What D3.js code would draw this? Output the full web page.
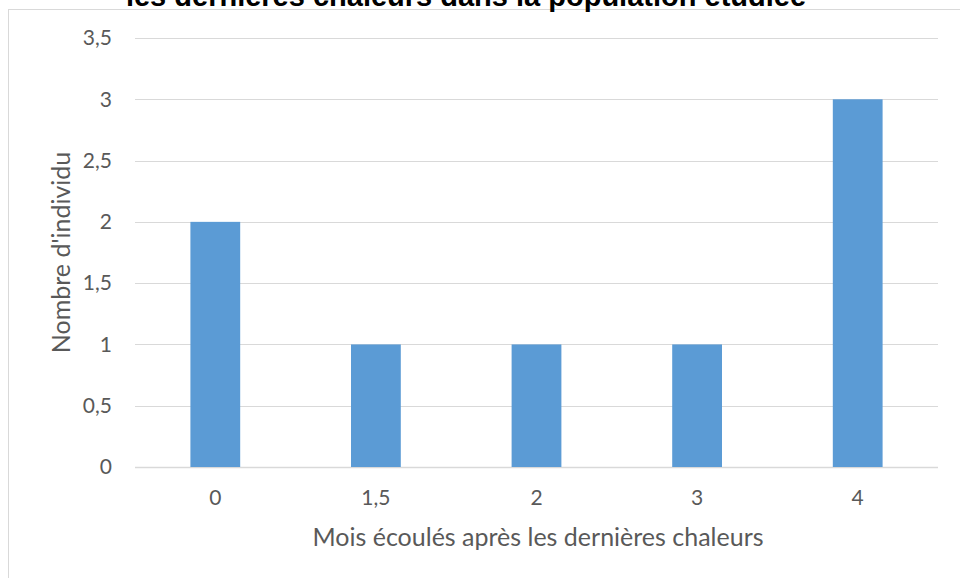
<!DOCTYPE html>
<html>
<head>
<meta charset="utf-8">
<script src="https://cdn.jsdelivr.net/npm/d3@7"></script>
<style>
  body { margin: 0; background: #fff; }
  svg { display: block; }
</style>
</head>
<body>
<svg id="chart" width="960" height="578"></svg>
<script>
var svg = d3.select("#chart");
var width = +svg.attr("width"),
    height = +svg.attr("height");

// data
var categories = ["0", "1,5", "2", "3", "4"];
var counts = [2, 1, 1, 1, 3];
var yTicks = [0, 0.5, 1, 1.5, 2, 2.5, 3, 3.5];

var margin = {left: 135, right: 22, top: 38, bottom: 111};
var labelFont = "Lato, 'Open Sans', sans-serif";

var x = d3.scaleBand()
  .domain(categories)
  .range([margin.left, width - margin.right])
  .paddingInner(0.69)
  .paddingOuter(0.345);

var y = d3.scaleLinear()
  .domain([0, 3.5])
  .range([height - margin.bottom, margin.top]);

// chart frame (cut at right and bottom like the screenshot)
svg.append("rect")
  .attr("x", 8.5)
  .attr("y", 9.5)
  .attr("width", 1000)
  .attr("height", 1000)
  .attr("fill", "#fff")
  .attr("stroke", "#d9d9d9")
  .attr("stroke-width", 1);

// title, mostly cut off at the top (as in the source screenshot)
svg.append("text")
  .attr("x", 466)
  .attr("y", 6)
  .attr("text-anchor", "middle")
  .style("font-family", "'Liberation Sans', Arial, sans-serif")
  .style("font-weight", "bold")
  .style("font-size", "29px")
  .attr("fill", "#000")
  .text("les dernières chaleurs dans la population étudiée");

// gridlines
svg.append("g")
  .selectAll("line")
  .data(yTicks)
  .enter()
  .append("line")
    .attr("x1", margin.left)
    .attr("x2", width - margin.right)
    .attr("y1", d => Math.round(y(d)) + 0.5)
    .attr("y2", d => Math.round(y(d)) + 0.5)
    .attr("stroke", "#d9d9d9")
    .attr("stroke-width", d => d === 0 ? 1.5 : 1);

// y tick labels
var yAxis = d3.axisLeft(y)
  .tickValues(yTicks)
  .tickSize(0)
  .tickPadding(0)
  .tickFormat(d => String(d).replace(".", ","));

var gy = svg.append("g")
  .attr("transform", "translate(112,0)")
  .call(yAxis);
gy.select(".domain").remove();
gy.selectAll("text")
  .style("font-family", labelFont)
  .style("font-size", "21px")
  .attr("fill", "#595959");

// bars
svg.append("g")
  .selectAll("rect")
  .data(counts)
  .enter()
  .append("rect")
    .attr("x", (d, i) => x(categories[i]))
    .attr("y", d => y(d))
    .attr("width", x.bandwidth())
    .attr("height", d => y(0) - y(d))
    .attr("fill", "#5b9bd5");

// x tick labels
var xAxis = d3.axisBottom(x).tickSize(0).tickPadding(0);
var gx = svg.append("g")
  .attr("transform", "translate(0," + (y(0) + 23) + ")")
  .call(xAxis);
gx.select(".domain").remove();
gx.selectAll("text")
  .style("font-family", labelFont)
  .style("font-size", "21px")
  .attr("fill", "#595959");

// axis titles
svg.append("text")
  .attr("x", 538)
  .attr("y", 546)
  .attr("text-anchor", "middle")
  .style("font-family", labelFont)
  .style("font-size", "25px")
  .attr("fill", "#595959")
  .text("Mois écoulés après les dernières chaleurs");

svg.append("text")
  .attr("transform", "translate(70," + ((margin.top + y(0)) / 2) + ") rotate(-90)")
  .attr("text-anchor", "middle")
  .style("font-family", labelFont)
  .style("font-size", "25px")
  .attr("fill", "#595959")
  .text("Nombre d'individu");
</script>
</body>
</html>
